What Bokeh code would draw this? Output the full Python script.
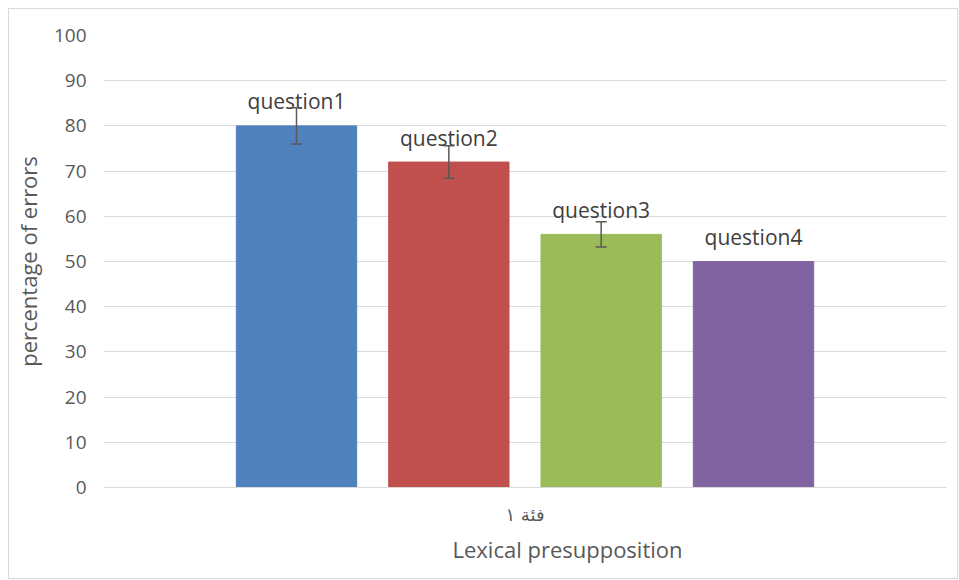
from bokeh.plotting import figure
from bokeh.models import ColumnDataSource, Whisker, TeeHead, FixedTicker, Range1d, Title
from bokeh.embed import file_html
from bokeh.resources import INLINE

questions = ["question1", "question2", "question3", "question4"]
values = [80, 72, 56, 50]
errors = [4.0, 3.6, 2.8, 0.0]
colors = ["#4F81BD", "#C0504D", "#9BBB59", "#8064A2"]
positions = [1, 2, 3, 4]
category_label = "فئة ١"
y_ticks = [0, 10, 20, 30, 40, 50, 60, 70, 80, 90, 100]

FONT = "Open Sans"
GREY = "#595959"

src = ColumnDataSource(dict(x=positions, top=values, color=colors, name=questions))
err_src = ColumnDataSource(dict(
    x=[p for p, e in zip(positions, errors) if e > 0],
    upper=[v + e for v, e in zip(values, errors) if e > 0],
    lower=[v - e for v, e in zip(values, errors) if e > 0],
))

p = figure(width=950, height=571, output_backend="svg", toolbar_location=None,
           x_range=Range1d(-0.267, 5.267), y_range=Range1d(0, 100),
           min_border_left=10, min_border_right=13, min_border_top=26, min_border_bottom=93)
p.styles = {"border": "1px solid #d9d9d9", "box-sizing": "border-box",
            "margin-left": "8px", "margin-top": "8px"}
p.outline_line_color = None
p.background_fill_color = "white"
p.border_fill_color = "white"

p.vbar(x="x", top="top", bottom=0, width=0.79, color="color", source=src)

w = Whisker(base="x", upper="upper", lower="lower", source=err_src,
            line_color=GREY, line_width=1.5, level="overlay",
            upper_head=TeeHead(size=11, line_color=GREY, line_width=1.5),
            lower_head=TeeHead(size=11, line_color=GREY, line_width=1.5))
p.add_layout(w)

p.text(x="x", y="top", text="name", source=src, text_align="center",
       text_baseline="middle", y_offset=-24.5, text_font_size="21px",
       text_color="#404040", text_font={"value": FONT})

p.xgrid.grid_line_color = None
p.ygrid.grid_line_color = "#d9d9d9"
p.ygrid.grid_line_width = 1

p.yaxis.ticker = FixedTicker(ticks=y_ticks)
p.yaxis.axis_line_color = None
p.yaxis.major_tick_line_color = None
p.yaxis.minor_tick_line_color = None
p.yaxis.major_tick_in = 0
p.yaxis.major_tick_out = 0
p.yaxis.major_label_text_color = GREY
p.yaxis.major_label_text_font = FONT
p.yaxis.major_label_text_font_size = "19px"
p.yaxis.major_label_standoff = 17
p.yaxis.axis_label = "percentage of errors"
p.yaxis.axis_label_text_font = FONT
p.yaxis.axis_label_text_font_size = "22px"
p.yaxis.axis_label_text_font_style = "normal"
p.yaxis.axis_label_text_color = GREY
p.yaxis.axis_label_standoff = 8

p.xaxis.ticker = FixedTicker(ticks=[2.5])
p.xaxis.major_label_overrides = {2.5: category_label}
p.xaxis.axis_line_color = "#d9d9d9"
p.xaxis.major_tick_line_color = None
p.xaxis.minor_tick_line_color = None
p.xaxis.major_tick_in = 0
p.xaxis.major_tick_out = 0
p.xaxis.major_label_text_color = GREY
p.xaxis.major_label_text_font = "DejaVu Sans"
p.xaxis.major_label_text_font_size = "18px"
p.xaxis.major_label_standoff = 16

t = Title(text="Lexical presupposition", align="left", offset=349,
          text_font=FONT, text_font_size="22px", text_font_style="normal",
          text_color=GREY, standoff=8)
p.add_layout(t, "below")

open("out.html", "w").write(file_html(p, INLINE))
